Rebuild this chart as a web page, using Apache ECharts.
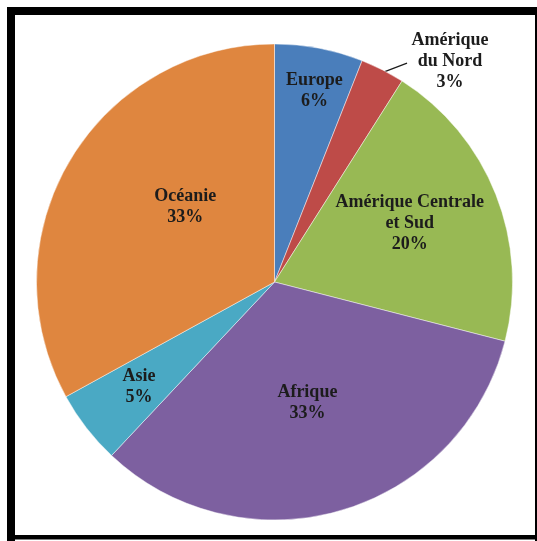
<!DOCTYPE html>
<html>
<head>
<meta charset="utf-8">
<script src="https://cdn.jsdelivr.net/npm/echarts@6/dist/echarts.min.js"></script>
<style>
  html, body { margin: 0; padding: 0; background: #ffffff; }
  #chart { width: 537px; height: 541px; }
</style>
</head>
<body>
<div id="chart"></div>
<script>
// ---- data ----
const categories = ['Europe', 'Amérique\ndu Nord', 'Amérique Centrale\net Sud', 'Afrique', 'Asie', 'Océanie'];
const values = [6, 3, 20, 33, 5, 33];

// ---- styles ----
const colors = ['#4A7EBB', '#BE4B48', '#98B954', '#7D60A0', '#4AA9C4', '#DF863F'];
const labelRadiusFrac = [0.82, 1.185, 0.62, 0.527, 0.72, 0.49];
const labelAngleShift = [1, 11.5, -2, 1, 0, 9.5];
const CX = 274.5, CY = 282, R = 238;

const total = values.reduce((a, b) => a + b, 0);
const midAngles = [];
let cum = 0;
values.forEach(v => { midAngles.push((cum + v / 2) / total * 360); cum += v; });

function polar(angleDeg, r) {
  const a = angleDeg * Math.PI / 180;
  return [CX + r * Math.sin(a), CY - r * Math.cos(a)];
}

const chart = echarts.init(document.getElementById('chart'));
chart.setOption({
  animation: false,
  backgroundColor: '#ffffff',
  graphic: [
    { type: 'rect', shape: { x: 7, y: 7, width: 8, height: 534 }, style: { fill: '#000' } },
    { type: 'rect', shape: { x: 7, y: 7, width: 530, height: 8 }, style: { fill: '#000' } },
    { type: 'rect', shape: { x: 535, y: 7, width: 2, height: 534 }, style: { fill: '#000' } },
    { type: 'rect', shape: { x: 7, y: 535, width: 530, height: 4.5 }, style: { fill: '#000' } }
  ],
  series: [{
    type: 'pie',
    center: [CX, CY],
    radius: R,
    startAngle: 90,
    clockwise: true,
    avoidLabelOverlap: false,
    itemStyle: { borderColor: 'rgba(255,255,255,0.45)', borderWidth: 1 },
    label: {
      show: true,
      position: 'inside',
      formatter: '{b}\n{d}%',
      fontFamily: '"Liberation Serif", "DejaVu Serif", serif',
      fontWeight: 'bold',
      fontSize: 18,
      lineHeight: 21,
      color: '#1c1c1c',
      align: 'center'
    },
    labelLine: { show: false },
    labelLayout: function (p) {
      const i = p.dataIndex;
      const pos = polar(midAngles[i] + labelAngleShift[i], R * labelRadiusFrac[i]);
      const out = { x: pos[0], y: pos[1], align: 'center', verticalAlign: 'middle' };
      if (i === 1) {
        const s = polar(midAngles[i], R * 0.985);
        const e = polar(midAngles[i] + 4.2, R * 1.075);
        out.labelLinePoints = [s, [(s[0] + e[0]) / 2, (s[1] + e[1]) / 2], e];
      }
      return out;
    },
    data: categories.map((c, i) => {
      const d = { name: c, value: values[i], itemStyle: { color: colors[i] } };
      if (i === 1) {
        d.label = { position: 'outside' };
        d.labelLine = { show: true, length: 10, length2: 10, smooth: false, lineStyle: { color: '#1c1c1c', width: 1.2 } };
      }
      return d;
    })
  }]
});
</script>
</body>
</html>
